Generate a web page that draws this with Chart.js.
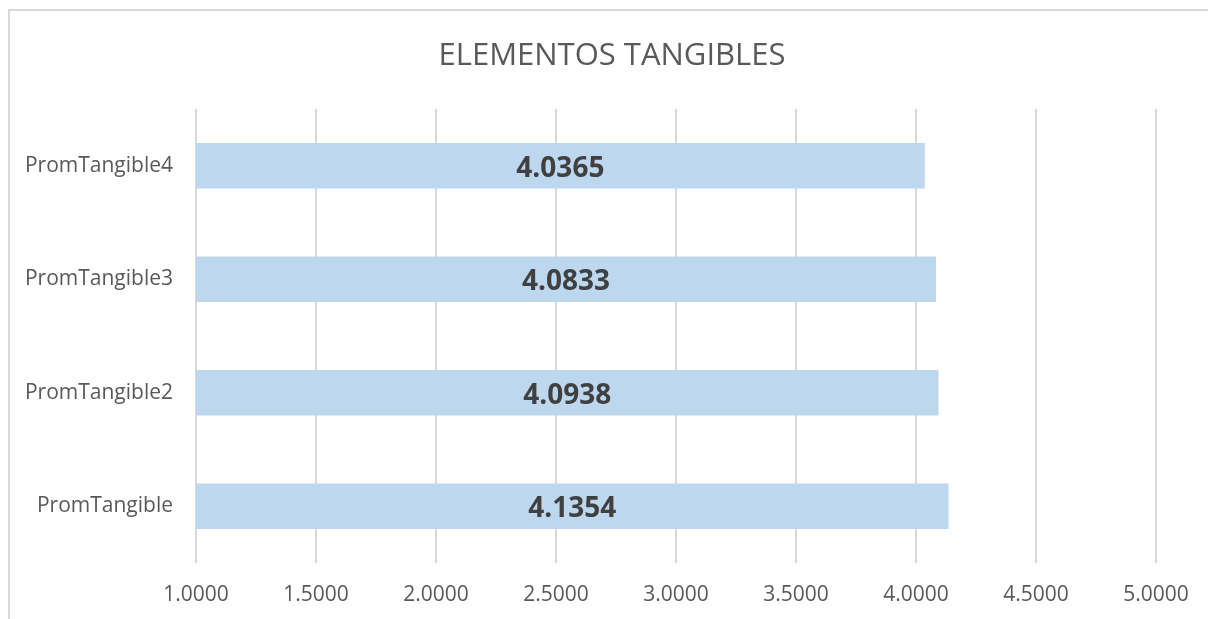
<!DOCTYPE html>
<html>
<head>
<meta charset="utf-8">
<script src="https://cdn.jsdelivr.net/npm/chart.js@4/dist/chart.umd.min.js"></script>
<style>
  html, body { margin: 0; padding: 0; background: #ffffff; overflow: hidden; }
  #wrap { position: relative; width: 1208px; height: 619px; overflow: hidden; }
  #frame { position: absolute; left: 8px; top: 9px; width: 1300px; height: 700px; border: 2px solid #d9d9d9; box-sizing: border-box; }
  canvas { position: absolute; left: 0; top: 0; }
</style>
</head>
<body>
<div id="wrap">
  <div id="frame"></div>
  <canvas id="c" width="1208" height="619"></canvas>
</div>
<script>
const titleText = 'ELEMENTOS TANGIBLES';
const categories = ['PromTangible4', 'PromTangible3', 'PromTangible2', 'PromTangible'];
const values = [4.0365, 4.0833, 4.0938, 4.1354];
const xTickMin = 1.0;
const xTickMax = 5.0;
const xTickStep = 0.5;

const FONT = "'Open Sans', 'Noto Sans', sans-serif";

const titlePlugin = {
  id: 'titleText',
  afterDraw(chart) {
    const ctx = chart.ctx;
    ctx.save();
    ctx.font = "31px " + FONT;
    ctx.fillStyle = '#595959';
    ctx.textAlign = 'center';
    ctx.textBaseline = 'alphabetic';
    ctx.fillText(titleText, 612, 65);
    ctx.restore();
  }
};

const barLabels = {
  id: 'barLabels',
  afterDatasetsDraw(chart) {
    const ctx = chart.ctx;
    const meta = chart.getDatasetMeta(0);
    const xs = chart.scales.x;
    const left = xs.getPixelForValue(xTickMin);
    ctx.save();
    ctx.font = "bold 28px " + FONT;
    ctx.fillStyle = '#404040';
    ctx.textAlign = 'center';
    ctx.textBaseline = 'middle';
    meta.data.forEach((bar, i) => {
      const p = bar.getProps(['x', 'y'], true);
      ctx.fillText(values[i].toFixed(4), (p.x + left) / 2, p.y + 3);
    });
    ctx.restore();
  }
};

new Chart(document.getElementById('c'), {
  type: 'bar',
  data: {
    labels: categories,
    datasets: [{
      data: values,
      backgroundColor: '#bdd7ee',
      borderWidth: 0,
      categoryPercentage: 1.0,
      barPercentage: 0.4
    }]
  },
  options: {
    indexAxis: 'y',
    responsive: false,
    animation: false,
    layout: { padding: { left: 0, right: 52, top: 109, bottom: 0 } },
    plugins: {
      legend: { display: false },
      tooltip: { enabled: false },
      title: { display: false }
    },
    scales: {
      x: {
        min: xTickMin,
        max: xTickMax,
        ticks: {
          stepSize: xTickStep,
          color: '#595959',
          font: { family: FONT, size: 21, lineHeight: 1.4 },
          padding: 17,
          callback: (v) => Number(v).toFixed(4)
        },
        grid: { color: '#d9d9d9', lineWidth: 2, drawTicks: false },
        border: { display: false },
        afterFit: (s) => { s.height = 56; }
      },
      y: {
        ticks: {
          color: '#595959',
          font: { family: FONT, size: 21 },
          padding: 23
        },
        grid: { display: false, drawTicks: false },
        border: { display: false },
        afterFit: (s) => { s.width = 196; }
      }
    }
  },
  plugins: [barLabels, titlePlugin]
});
</script>
</body>
</html>
